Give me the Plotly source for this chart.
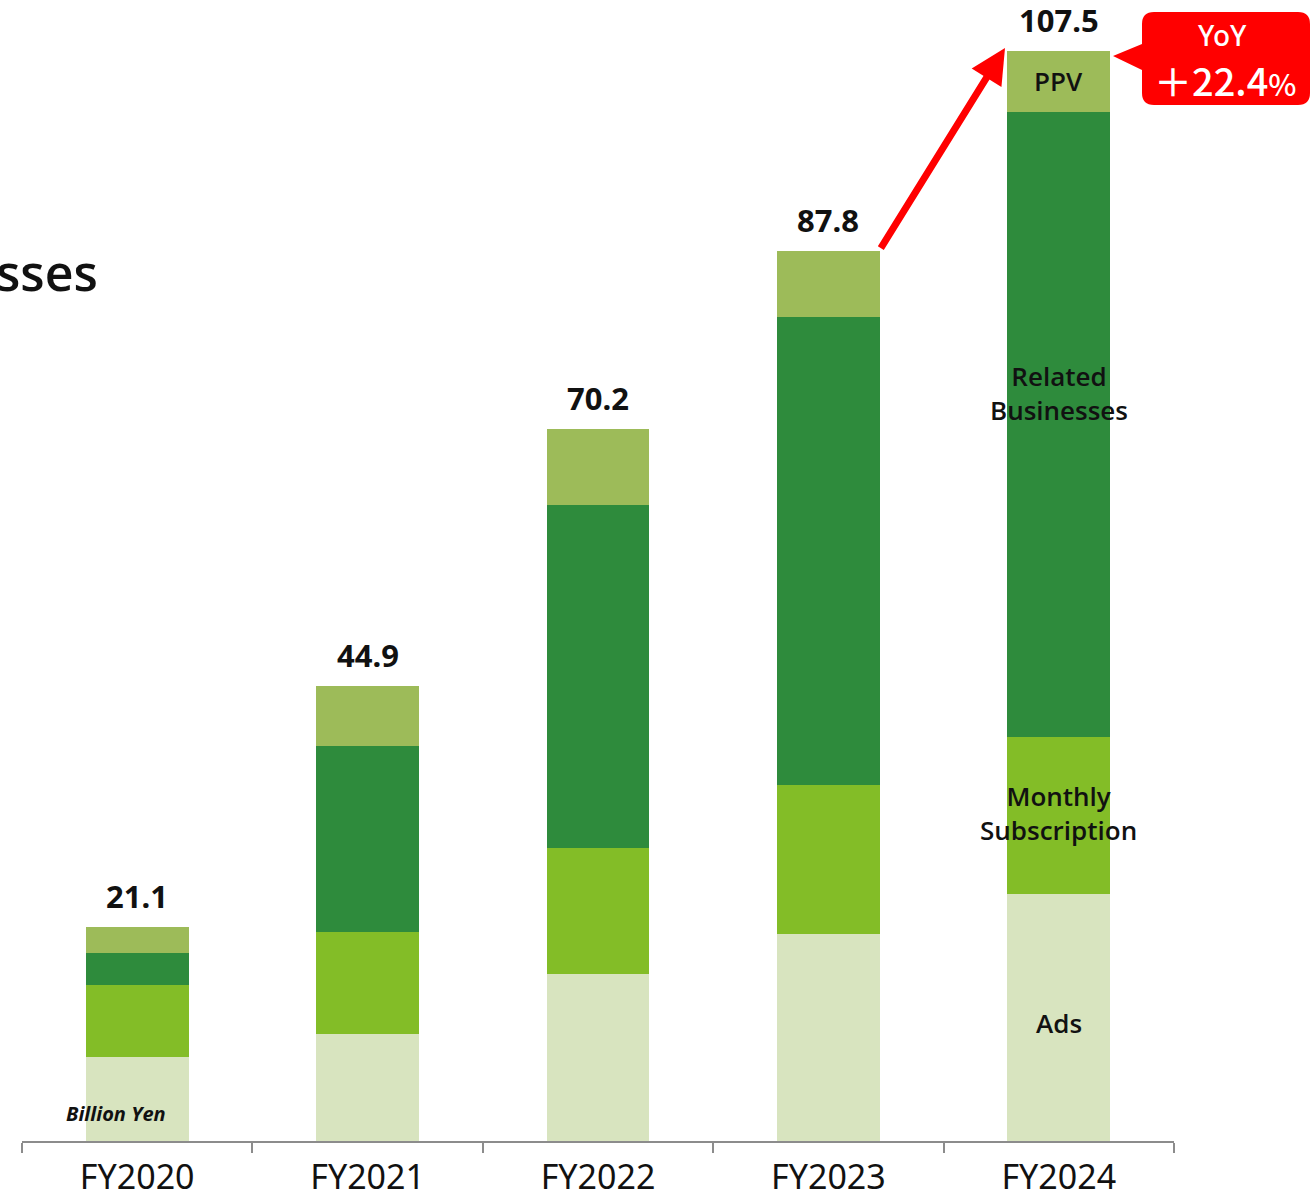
import plotly.graph_objects as go

# Revenue by business line, billion yen
years = ["FY2020", "FY2021", "FY2022", "FY2023", "FY2024"]
ads = [8.3, 10.6, 16.5, 20.4, 24.4]
monthly = [7.1, 10.0, 12.4, 14.7, 15.4]
related = [3.1, 18.4, 33.8, 46.2, 61.7]
ppv = [2.6, 5.9, 7.5, 6.5, 6.0]
totals = [21.1, 44.9, 70.2, 87.8, 107.5]
yoy_label = "＋22.4"

segments = [
    ("Ads", ads, "#D8E4BF"),
    ("Monthly Subscription", monthly, "#83BD27"),
    ("Related Businesses", related, "#2E8B3C"),
    ("PPV", ppv, "#9DBB59"),
]

W, H = 1311, 1199
M_L, M_R, M_T, M_B = 22, 137, 11, 58
BAR_W = 0.447


def px(x):
    return (x - M_L) / (W - M_L - M_R)


def py(y):
    return (H - M_B - y) / (H - M_T - M_B)


fig = go.Figure()
for name, vals, color in segments:
    fig.add_trace(go.Bar(
        x=years, y=vals, name=name, width=BAR_W,
        marker=dict(color=color, line=dict(width=0)),
        hoverinfo="x+y+name",
    ))

annotations = []
# totals above each bar
for yr, t in zip(years, totals):
    annotations.append(dict(
        x=yr, y=t, xref="x", yref="y", text=f"{t:.1f}", showarrow=False,
        yanchor="bottom", xanchor="center", yshift=8,
        font=dict(family="Noto Sans", size=31, color="#111111", weight="bold"),
    ))

# segment labels on the latest bar
last = len(years) - 1
seg_font = dict(family="Open Sans", size=26, color="#111111", weight=600)
base = 0
label_pos = []
for name, vals, _ in segments:
    label_pos.append((name, base, base + vals[last]))
    base += vals[last]
seg_text = {
    "Ads": "Ads",
    "Monthly Subscription": "Monthly<br>Subscription",
    "Related Businesses": "Related<br>Businesses",
    "PPV": "PPV",
}
seg_shift = {"Ads": -6, "Monthly Subscription": 3, "Related Businesses": 32, "PPV": 0}
for name, lo, hi in label_pos:
    annotations.append(dict(
        x=years[last], y=(lo + hi) / 2, xref="x", yref="y",
        text=seg_text[name], showarrow=False, yshift=seg_shift[name],
        xanchor="center", yanchor="middle", font=seg_font,
    ))

# growth arrow from previous year's total to the latest total
annotations.append(dict(
    x=last - BAR_W / 2 - 0.01, y=totals[last] + 0.3, xref="x", yref="y",
    ax=last - 1 + BAR_W / 2, ay=totals[last - 1] + 0.1, axref="x", ayref="y",
    showarrow=True, arrowhead=2, arrowsize=1.0, arrowwidth=7,
    arrowcolor="#FF0000", text="",
))

# YoY callout text
annotations.append(dict(
    x=px(1222), y=py(35), xref="paper", yref="paper", text="YoY",
    showarrow=False, xanchor="center", yanchor="middle",
    font=dict(family="Noto Sans", size=28, color="white", weight=500),
))
annotations.append(dict(
    x=px(1225), y=py(79), xref="paper", yref="paper",
    text=yoy_label + "<span style='font-size:30px'>%</span>",
    showarrow=False, xanchor="center", yanchor="middle",
    font=dict(family="Noto Sans CJK JP", size=38, color="white", weight=500),
))

# unit note
annotations.append(dict(
    x=years[0], y=0, xref="x", yref="y", text="<i><b>Billion Yen</b></i>",
    showarrow=False, xanchor="center", yanchor="bottom", yshift=12, xshift=-21,
    font=dict(family="Open Sans", size=20, color="#111111"),
))

# heading fragment at left edge
annotations.append(dict(
    x=px(100), y=py(272), xref="paper", yref="paper", text="sses",
    showarrow=False, xanchor="right", yanchor="middle",
    font=dict(family="Open Sans", size=50, color="#111111", weight=600),
))

# callout bubble: rounded box with a pointer to the left
x0, x1, y0, y1, r = px(1142), px(1310), py(12), py(105), 12
rx = r / (W - M_L - M_R)
ry = r / (H - M_T - M_B)
bubble = (
    f"M {x0 + rx},{y0} L {x1 - rx},{y0} Q {x1},{y0} {x1},{y0 - ry} "
    f"L {x1},{y1 + ry} Q {x1},{y1} {x1 - rx},{y1} "
    f"L {x0 + rx},{y1} Q {x0},{y1} {x0},{y1 + ry} "
    f"L {x0},{py(70)} L {px(1113)},{py(56)} L {x0},{py(44)} "
    f"L {x0},{y0 - ry} Q {x0},{y0} {x0 + rx},{y0} Z"
)
shapes = [dict(
    type="path", path=bubble, xref="paper", yref="paper",
    fillcolor="#FF0000", line=dict(width=0), layer="above",
)]

fig.update_layout(
    barmode="stack",
    width=W, height=H,
    margin=dict(l=M_L, r=M_R, t=M_T, b=M_B, autoexpand=False),
    paper_bgcolor="white", plot_bgcolor="white",
    showlegend=False,
    annotations=annotations,
    shapes=shapes,
    xaxis=dict(
        type="category", range=[-0.5, 4.5], automargin=False,
        showline=True, linecolor="#8C8C8C", linewidth=2,
        ticks="outside", tickson="boundaries", ticklen=10,
        tickcolor="#8C8C8C", tickwidth=2, ticklabelstandoff=5,
        tickfont=dict(family="Noto Sans", size=34, color="#111111"),
        showgrid=False, zeroline=False,
    ),
    yaxis=dict(
        range=[0, (H - M_T - M_B) / 10.14], automargin=False,
        visible=False, showgrid=False, zeroline=False,
    ),
)

fig.write_html("out.html")
